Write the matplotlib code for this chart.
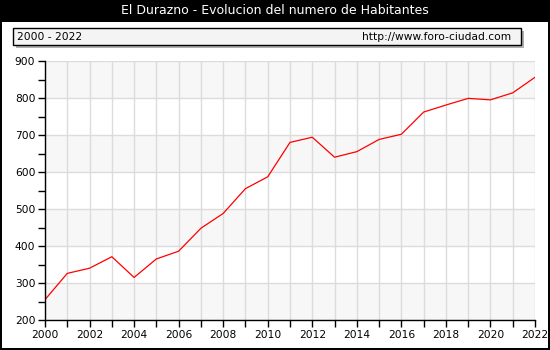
import matplotlib.pyplot as plt
from matplotlib.patches import Rectangle
from matplotlib.ticker import MultipleLocator

# habitantes por año
years = list(range(2000, 2023))
habitantes = [255, 326, 340, 371, 315, 365, 386, 448, 488, 555, 587, 680, 694, 640,
              655, 688, 702, 762, 781, 799, 795, 814, 856]

titulo = "El Durazno - Evolucion del numero de Habitantes"
periodo = "2000 - 2022"
web = "http://www.foro-ciudad.com"

W, H = 550, 350
fig = plt.figure(figsize=(W / 100, H / 100), dpi=100, facecolor="black")

def px(x, y, w, h):
    # rectangulo en pixeles (origen arriba a la izquierda) -> coords de figura
    return (x / W, 1 - (y + h) / H), w / W, h / H

# fondo blanco dentro del marco negro
xy, w, h = px(2, 22, 546, 326)
fig.patches.append(Rectangle(xy, w, h, transform=fig.transFigure, facecolor="white",
                             edgecolor="none", zorder=-2))
fig.text(0.5, 1 - 11 / H, titulo, color="white", fontsize=9, ha="center", va="center")

# caja con sombra
xy, w, h = px(16, 31, 508, 17)
fig.patches.append(Rectangle(xy, w, h, transform=fig.transFigure, facecolor="#b0b0b0",
                             edgecolor="none", zorder=1))
xy, w, h = px(13, 28, 508, 17)
fig.patches.append(Rectangle(xy, w, h, transform=fig.transFigure, facecolor="#f4f4f4",
                             edgecolor="black", linewidth=1, zorder=2))
fig.text(17 / W, 1 - 36.5 / H, periodo, fontsize=7.7, ha="left", va="center", zorder=3)
fig.text(511 / W, 1 - 36.5 / H, web, fontsize=7.7, ha="right", va="center", zorder=3)

ax = fig.add_axes([45 / W, 30 / H, 490 / W, 259 / H])
ax.set_facecolor("white")

# bandas grises alternas
for y0 in range(200, 900, 200):
    ax.axhspan(y0, y0 + 100, color="#f7f7f7", zorder=0, linewidth=0)

ax.plot(years, habitantes, color="red", linewidth=0.9, zorder=3)

ax.set_xlim(2000, 2022)
ax.set_ylim(200, 900)
ax.xaxis.set_major_locator(MultipleLocator(2))
ax.xaxis.set_minor_locator(MultipleLocator(1))
ax.yaxis.set_major_locator(MultipleLocator(100))
ax.yaxis.set_minor_locator(MultipleLocator(50))

ax.grid(True, which="major", axis="y", color="#dcdcdc", linewidth=1, zorder=1)
ax.grid(True, which="both", axis="x", color="#dcdcdc", linewidth=1, zorder=1)
ax.set_axisbelow(True)

for s in ["top", "right"]:
    ax.spines[s].set_visible(False)
for s in ["left", "bottom"]:
    ax.spines[s].set_linewidth(1)
    ax.spines[s].set_zorder(4)

ax.tick_params(which="both", direction="out", length=5, width=1, labelsize=7.7, pad=2)

fig.savefig("out.png", dpi=100, facecolor="black")
